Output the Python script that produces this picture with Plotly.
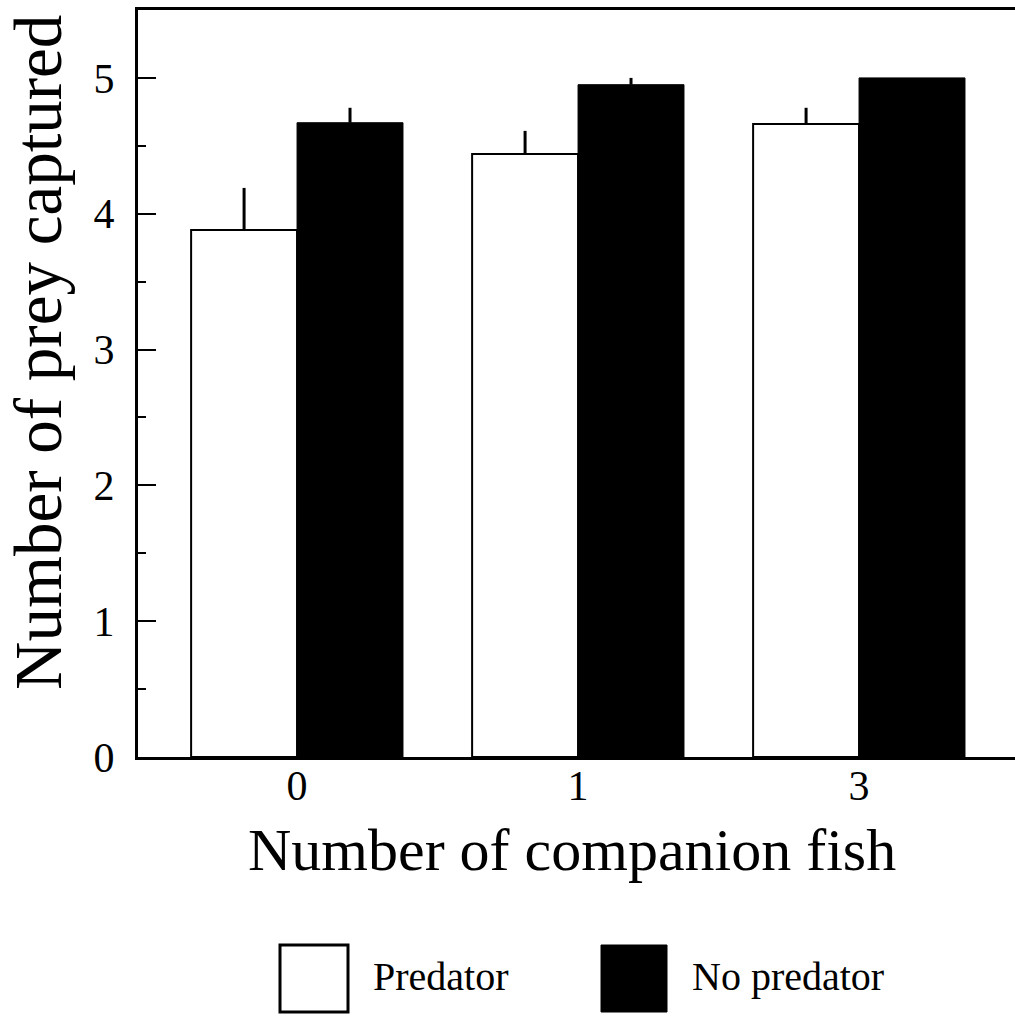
import plotly.graph_objects as go

categories = ["0", "1", "3"]
predator = [3.88, 4.44, 4.66]
predator_err = [0.31, 0.17, 0.12]
no_predator = [4.67, 4.95, 5.0]
no_predator_err = [0.11, 0.05, 0.0]
y_ticks = [0, 1, 2, 3, 4, 5]

W, H = 1015, 1016
L, R, T, B = 138, 0, 10, 259
PW = W - L - R
PH = H - T - B

def px(x):
    return (x - L) / PW

def py(y):
    return (H - B - y) / PH

FONT = "Liberation Serif"

fig = go.Figure()
fig.add_trace(go.Bar(
    x=categories, y=predator, name="Predator",
    marker=dict(color="white", line=dict(color="black", width=2)),
    error_y=dict(type="data", symmetric=False, array=predator_err,
                 arrayminus=[0] * 3, width=0, thickness=3, color="black"),
))
fig.add_trace(go.Bar(
    x=categories, y=no_predator, name="No predator",
    marker=dict(color="black", line=dict(color="black", width=1)),
    error_y=dict(type="data", symmetric=False, array=no_predator_err,
                 arrayminus=[0] * 3, width=0, thickness=3, color="black"),
))

fig.update_layout(
    width=W, height=H,
    margin=dict(l=L, r=R, t=T, b=B, autoexpand=False),
    plot_bgcolor="white", paper_bgcolor="white",
    barmode="group", bargap=0.246, bargroupgap=0,
    showlegend=False,
    font=dict(family=FONT, color="black"),
)
fig.update_xaxes(
    type="category", range=[-0.566, 2.555],
    showline=True, linewidth=3, linecolor="black", mirror=True,
    showgrid=False, ticks="", tickfont=dict(size=42, family=FONT),
    ticklabelstandoff=-10,
)
fig.update_yaxes(
    range=[0, 5.5], tickvals=y_ticks,
    showline=True, linewidth=3, linecolor="black", mirror=False,
    showgrid=False, zeroline=False,
    ticks="inside", ticklen=18, tickwidth=2, tickcolor="black",
    minor=dict(ticks="inside", ticklen=8, tickwidth=2, dtick=0.5, tickcolor="black", showgrid=False),
    tickfont=dict(size=42, family=FONT), ticklabelstandoff=12,
)

# axis titles
fig.add_annotation(text="Number of companion fish", xref="paper", yref="paper",
                   x=px(572), y=py(850), showarrow=False,
                   font=dict(size=60, family=FONT), xanchor="center", yanchor="middle")
fig.add_annotation(text="Number of prey captured", xref="paper", yref="paper",
                   x=px(38), y=py(353), showarrow=False, textangle=-90,
                   font=dict(size=67, family=FONT), xanchor="center", yanchor="middle")

# legend
fig.add_shape(type="rect", xref="paper", yref="paper",
              x0=px(280), x1=px(348), y0=py(1012), y1=py(945),
              line=dict(color="black", width=3), fillcolor="white")
fig.add_shape(type="rect", xref="paper", yref="paper",
              x0=px(601), x1=px(667), y0=py(1012), y1=py(945),
              line=dict(color="black", width=1), fillcolor="black")
fig.add_annotation(text="Predator", xref="paper", yref="paper",
                   x=px(371), y=py(976), showarrow=False,
                   font=dict(size=40, family=FONT), xanchor="left", yanchor="middle")
fig.add_annotation(text="No predator", xref="paper", yref="paper",
                   x=px(690), y=py(976), showarrow=False,
                   font=dict(size=40, family=FONT), xanchor="left", yanchor="middle")

fig.write_html("out.html")
